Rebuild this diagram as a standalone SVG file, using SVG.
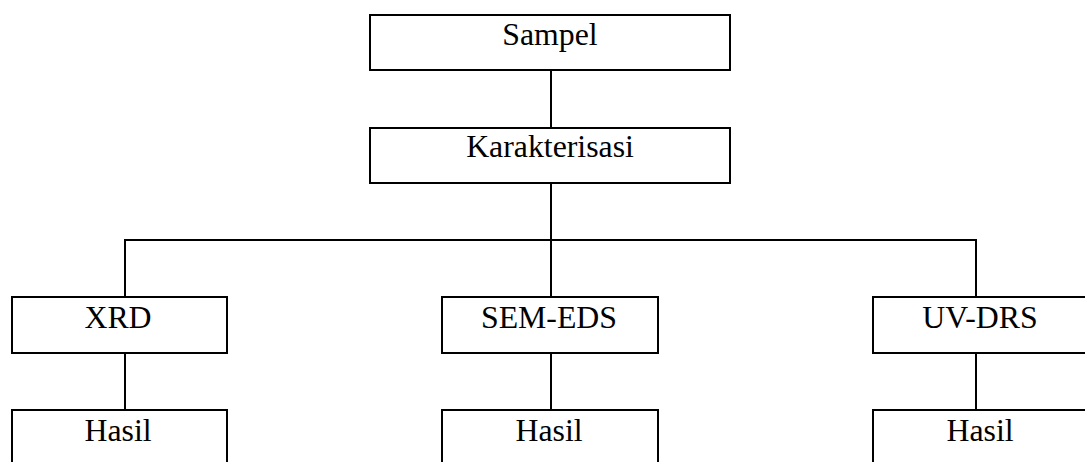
<svg xmlns="http://www.w3.org/2000/svg" width="1085" height="462" viewBox="0 0 1085 462">
<style>
.box{fill:#fff;stroke:#000;stroke-width:2}
.ln{fill:none;stroke:#000;stroke-width:2}
.t{font-family:"Liberation Serif","Times New Roman",serif;font-size:31.8px;fill:#000;text-anchor:middle}
</style>
<rect width="1085" height="462" fill="#fff"/>
<g id="connectors">
<line class="ln" x1="551" y1="70" x2="551" y2="128"/>
<line class="ln" x1="551" y1="183" x2="551" y2="297"/>
<polyline class="ln" points="125,297 125,240 976,240 976,297"/>
<line class="ln" x1="125" y1="353" x2="125" y2="410"/>
<line class="ln" x1="551" y1="353" x2="551" y2="410"/>
<line class="ln" x1="976" y1="353" x2="976" y2="410"/>
</g>
<g id="sampel"><rect class="box" x="370" y="15" width="360" height="55"/><text class="t" x="550" y="45">Sampel</text></g>
<g id="karakterisasi"><rect class="box" x="370" y="128" width="360" height="55"/><text class="t" x="550" y="157">Karakterisasi</text></g>
<g id="xrd"><rect class="box" x="12" y="297" width="215" height="56"/><text class="t" x="118" y="328">XRD</text></g>
<g id="semeds"><rect class="box" x="442" y="297" width="216" height="56"/><text class="t" x="549" y="328">SEM-EDS</text></g>
<g id="uvdrs"><rect class="box" x="873" y="297" width="216" height="56"/><text class="t" x="980" y="328">UV-DRS</text></g>
<g id="hasil1"><rect class="box" x="12" y="410" width="215" height="60"/><text class="t" x="118" y="441">Hasil</text></g>
<g id="hasil2"><rect class="box" x="442" y="410" width="216" height="60"/><text class="t" x="549" y="441">Hasil</text></g>
<g id="hasil3"><rect class="box" x="873" y="410" width="216" height="60"/><text class="t" x="980" y="441">Hasil</text></g>
</svg>
